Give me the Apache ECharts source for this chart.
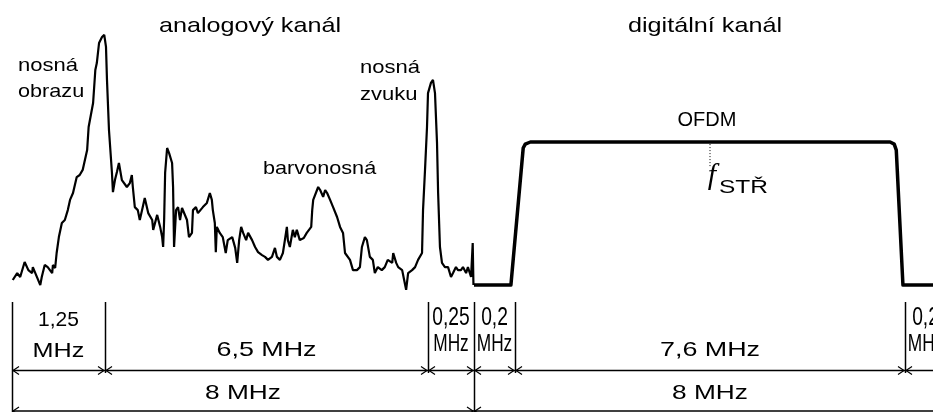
<!DOCTYPE html>
<html><head><meta charset="utf-8">
<script src="https://cdn.jsdelivr.net/npm/echarts@6/dist/echarts.min.js"></script>
<style>html,body{margin:0;padding:0;background:#fff}#c{width:933px;height:412px}</style>
</head><body><div id="c"></div>
<script>
// ---------- DATA ----------
// Frequency band edges (MHz from the lower channel edge)
const bandEdges = [0, 1.25, 7.75, 8.0, 8.2, 15.8, 16.0];
const bandLabels = ['1,25\nMHz', '6,5 MHz', '0,25\nMHz', '0,2\nMHz', '7,6 MHz', '0,2\nMHz'];
const channelEdges = [0, 8, 16];
const channelLabels = ['8 MHz', '8 MHz'];
const channelNames = ['analogový kanál', 'digitální kanál'];

// Analog TV channel spectrum (relative level)
const analogFreq = [
  0.01,0.07,0.11,0.17,0.22,0.27,0.28,0.34,0.38,0.40,0.44,0.48,0.54,0.55,0.58,0.60,0.63,0.67,0.71,0.75,
  0.78,0.82,0.87,0.91,0.95,1.01,1.03,1.09,1.12,1.14,1.17,1.21,1.24,
  1.27,1.29,1.33,1.39,1.41,1.45,1.49,1.53,1.59,1.69,1.75,1.79,1.81,1.85,1.91,1.95,2.01,2.05,2.12,2.20,
  2.22,2.30,2.36,2.40,2.42,2.44,2.46,2.50,2.54,2.60,2.62,2.64,2.68,2.72,2.76,2.80,2.90,2.94,3.00,3.02,
  3.08,3.12,3.22,3.30,3.36,3.40,3.42,3.46,3.48,3.50,3.56,3.62,3.68,3.72,3.81,3.87,3.91,3.95,3.99,4.03,
  4.09,4.13,4.21,4.27,4.33,4.41,4.47,4.53,4.61,4.67,4.71,4.77,4.83,4.87,4.91,4.93,4.97,5.03,5.07,5.11,
  5.17,5.25,5.31,5.40,5.42,5.44,5.48,5.54,5.58,5.64,5.68,5.72,5.78,5.84,5.92,5.98,6.04,6.08,6.18,6.24,
  6.32,6.38,6.42,6.48,6.52,6.58,6.64,6.68,6.74,6.82,6.88,6.94,7.03,7.05,7.11,7.15,7.23,7.27,7.31,7.35,
  7.43,7.49,7.55,7.63,7.65,7.69,7.73,
  7.750,7.766,7.777,7.788,7.799,7.805,7.815,7.826,7.842,7.859,7.875,7.886,7.902,7.913,7.929,7.940,
  7.957,7.967,7.984,7.993,7.997
];
const analogLevel = [
  6.0,8.3,7.0,12.0,9.3,8.3,10.3,6.7,4.3,7.0,11.0,10.3,8.3,11.0,10.0,15.0,20.3,25.0,26.0,29.3,
  32.7,35.0,40.3,41.0,42.7,49.3,57.0,65.0,76.0,78.3,85.0,87.0,87.7,
  83.7,72.7,56.0,41.7,35.3,39.3,42.0,45.0,39.3,37.0,38.3,41.0,37.0,30.3,29.3,26.0,30.3,33.3,28.3,26.0,
  22.7,27.7,23.7,20.3,17.0,26.0,41.7,50.0,48.3,45.0,37.0,17.0,29.3,30.3,26.0,30.0,26.0,20.3,21.7,29.3,
  30.3,28.3,30.3,31.7,35.0,32.7,29.3,25.0,15.3,23.7,21.7,20.3,15.0,19.3,20.3,16.7,11.7,19.3,23.7,21.7,
  19.3,21.7,19.3,17.0,15.3,14.3,13.7,12.7,13.7,16.7,13.7,12.7,15.0,19.3,23.7,19.3,17.0,22.7,20.3,22.7,
  19.3,20.0,21.7,23.7,29.3,32.7,32.7,37.0,36.0,33.7,36.0,35.0,32.7,30.3,27.0,23.7,21.7,15.0,12.7,9.3,
  9.3,10.3,17.0,20.3,19.3,13.7,12.7,8.3,10.3,9.3,10.3,12.7,11.7,15.0,11.7,10.3,9.3,6.0,2.7,8.3,
  9.3,10.3,12.7,15.0,29.3,42.7,57.0,
  68.3,71.7,72.7,68.3,51.7,35.0,17.0,11.7,10.3,10.3,7.0,8.3,10.3,9.3,9.3,10.3,
  8.3,10.3,7.0,18.3,4.3
];

// Digital (OFDM) channel spectrum
const digitalFreq  = [8.0, 8.18, 8.36, 8.40, 8.50, 15.51, 15.59, 15.63, 15.76, 16.0];
const digitalLevel = [4.3, 4.3, 50.0, 51.3, 52.0, 52.0, 51.3, 49.3, 4.3, 4.3];
const centerFreq = 12.0;
const centerMarkLevels = [51.3, 43.7];

// ---------- LAYOUT ----------
// the drawing is not to scale: schematic positions of the band edges along the axis
const EDGE_POS = [12, 105, 428, 474, 515, 905, 946];
function warp(f) {
  for (let i = 0; i < bandEdges.length - 1; i++) {
    const a = bandEdges[i], b = bandEdges[i + 1];
    if (f <= b || i === bandEdges.length - 2) {
      return EDGE_POS[i] + (f - a) / (b - a) * (EDGE_POS[i + 1] - EDGE_POS[i]);
    }
  }
}
const DIM_Y = [370.5, 411];
const EXT_TOP = 302, EXT_SHORT = 373, EXT_LONG = 412;
const FONT = '"Liberation Sans", Arial, sans-serif';

function textEl(text, x, y, size, sx, align, extra) {
  return Object.assign({
    type: 'text', x: x, y: y, scaleX: sx, silent: true,
    style: { text: text, font: size + 'px ' + FONT, fill: '#000',
      align: align, verticalAlign: 'middle', textAlign: align, textVerticalAlign: 'middle' }
  }, extra || {});
}

function dimRender(params, api) {
  const x1 = api.coord([api.value(0), 0])[0];
  const x2 = api.coord([api.value(1), 0])[0];
  const row = api.value(2);
  const y = DIM_Y[row];
  const label = row === 0 ? bandLabels[api.value(3)] : channelLabels[api.value(3)];
  const st = { stroke: '#000', lineWidth: 1.5, fill: 'none' };
  const ch = [
    { type: 'line', shape: { x1: x1, y1: y, x2: x2, y2: y }, style: st },
    { type: 'polyline', shape: { points: [[x1 + 7, y - 4], [x1 + 1, y], [x1 + 7, y + 4]] }, style: { stroke: '#000', lineWidth: 1.2, fill: 'none' } },
    { type: 'polyline', shape: { points: [[x2 - 7, y - 4], [x2 - 1, y], [x2 - 7, y + 4]] }, style: { stroke: '#000', lineWidth: 1.2, fill: 'none' } }
  ];
  const cx = (x1 + x2) / 2;
  const parts = label.split('\n');
  if (row === 1) {
    ch.push(textEl(parts[0], cx, y - 17.5, 21, 1.25, 'center'));
  } else if (parts.length === 1) {
    ch.push(textEl(parts[0], cx, y - 20, 21, 1.28, 'center'));
  } else if (x2 - x1 < 60) {
    ch.push(textEl(parts[0], cx, y - 52.5, 26, 0.74, 'center'));
    ch.push(textEl(parts[1], cx, y - 26.5, 24, 0.72, 'center'));
  } else {
    ch.push(textEl(parts[0], cx, y - 50, 21, 1.0, 'center'));
    ch.push(textEl(parts[1], cx, y - 19.5, 21, 1.2, 'center'));
  }
  return { type: 'group', children: ch };
}

function extRender(params, api) {
  const x = Math.round(api.coord([api.value(0), 0])[0]) + 0.5;
  const y2 = api.value(1) ? EXT_LONG : EXT_SHORT;
  return { type: 'line', shape: { x1: x, y1: EXT_TOP, x2: x, y2: y2 }, style: { stroke: '#000', lineWidth: 1.5 } };
}

const chart = echarts.init(document.getElementById('c'));
chart.setOption({
  animation: false,
  backgroundColor: '#fff',
  grid: { left: 0, right: 0, top: 28, bottom: 0 },
  xAxis: { type: 'value', min: 0, max: 933, show: false },
  yAxis: { type: 'value', min: -38, max: 90, show: false },
  series: [
    { type: 'line', name: 'analog', data: analogFreq.map((f, i) => [warp(f), analogLevel[i]]),
      symbol: 'none', lineStyle: { color: '#000', width: 2.2 }, z: 3 },
    { type: 'line', name: 'digital', data: digitalFreq.map((f, i) => [warp(f), digitalLevel[i]]),
      symbol: 'none', lineStyle: { color: '#000', width: 3.5, join: 'round' }, z: 3 },
    { type: 'line', name: 'fc', data: centerMarkLevels.map(l => [warp(centerFreq), l]),
      symbol: 'none', lineStyle: { color: '#000', width: 1, type: [1, 2] }, z: 2 },
    { type: 'custom', name: 'bands', renderItem: dimRender,
      data: bandEdges.slice(0, -1).map((a, i) => [warp(a), warp(bandEdges[i + 1]), 0, i]) },
    { type: 'custom', name: 'channels', renderItem: dimRender,
      data: channelEdges.slice(0, -1).map((a, i) => [warp(a), warp(channelEdges[i + 1]), 1, i]) },
    { type: 'custom', name: 'ext', renderItem: extRender,
      data: bandEdges.map(f => [warp(f), channelEdges.indexOf(f) >= 0 ? 1 : 0]) }
  ],
  graphic: [
    textEl(channelNames[0], 250, 26, 21, 1.2, 'center'),
    textEl(channelNames[1], 705, 26, 21, 1.2, 'center'),
    textEl('nosná', 18, 65.5, 19, 1.16, 'left'),
    textEl('obrazu', 18, 91.5, 19, 1.14, 'left'),
    textEl('barvonosná', 263, 169, 19, 1.14, 'left'),
    textEl('nosná', 360, 68, 19, 1.16, 'left'),
    textEl('zvuku', 360, 95, 19, 1.16, 'left'),
    textEl('OFDM', 707, 120.5, 20, 1.0, 'center'),
    { type: 'text', x: 712, y: 176, silent: true,
      style: { text: 'f', font: 'italic 30px "Liberation Serif", serif', fill: '#000',
        align: 'center', verticalAlign: 'middle', textAlign: 'center', textVerticalAlign: 'middle' } },
    textEl('STŘ', 719, 188, 19, 1.29, 'left')
  ]
});
</script>
</body></html>
